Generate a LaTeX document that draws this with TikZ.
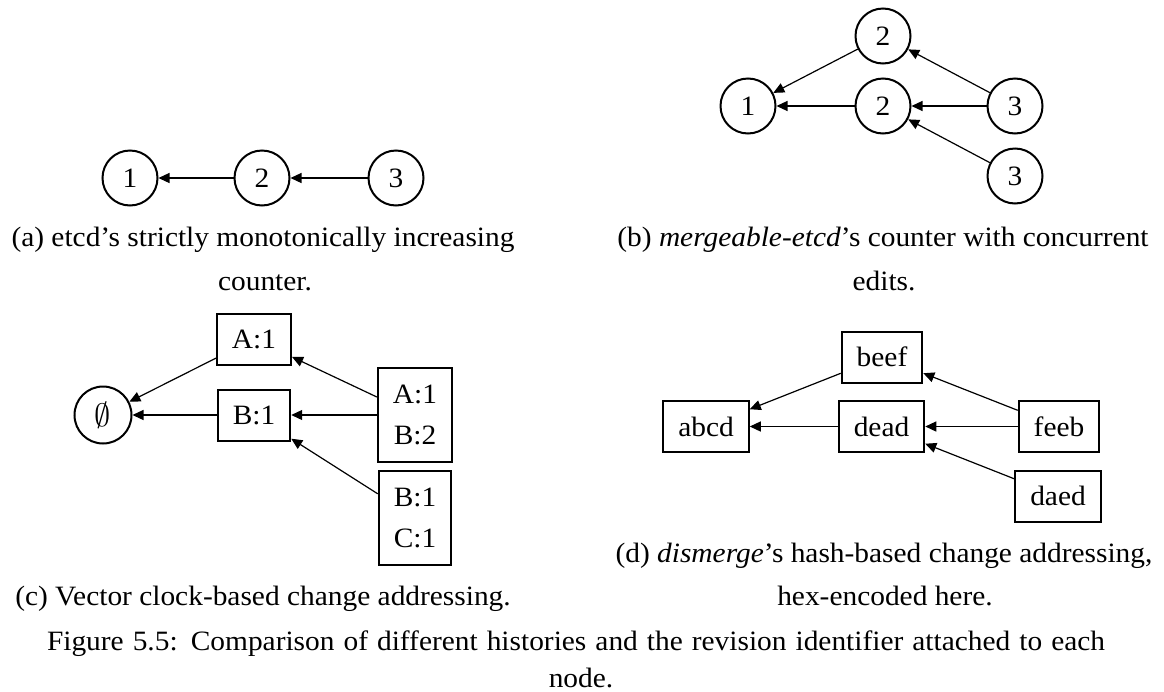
\documentclass[tikz,border=0pt]{standalone}
\usepackage{fontspec}
\usepackage{graphicx}
\setmainfont{Liberation Serif}[FakeStretch=1.05]
\usetikzlibrary{arrows.meta}
\begin{document}
\begin{tikzpicture}[x=1pt,y=-1pt,
  every node/.style={font=\fontsize{28}{33}\selectfont},
  circ/.style={circle,draw,line width=2pt,minimum size=55pt,inner sep=0pt},
  nbox/.style={rectangle,draw,line width=2pt,minimum height=51pt,inner xsep=15pt,inner ysep=0pt},
  tallbox/.style={nbox,align=center,minimum height=94pt,font=\fontsize{28}{41}\selectfont},
  arr/.style={-{Triangle[length=11pt,width=10pt]},line width=1.2pt},
  captext/.style={anchor=base,inner sep=0pt}
]
\useasboundingbox (0,0) rectangle (1164,691);

% (a)
\node[circ] (a1) at (130,178) {1};
\node[circ] (a2) at (262,178) {2};
\node[circ] (a3) at (396,178) {3};
\draw[arr] (a2) -- (a1);
\draw[arr] (a3) -- (a2);

% (b)
\node[circ] (b1)  at (748,106) {1};
\node[circ] (b2t) at (883,36)  {2};
\node[circ] (b2)  at (883,106) {2};
\node[circ] (b3)  at (1015,106) {3};
\node[circ] (b3b) at (1015,176) {3};
\draw[arr] (b2t) -- (b1);
\draw[arr] (b2) -- (b1);
\draw[arr] (b3) -- (b2t);
\draw[arr] (b3) -- (b2);
\draw[arr] (b3b) -- (b2);

% (c)
\node[circ,minimum size=57pt] (c0) at (103,415) {\scalebox{1.3}{$\emptyset$}};
\node[nbox] (cA)  at (254,339) {A:1};
\node[nbox] (cB)  at (254,415) {B:1};
\node[tallbox] (cAB) at (415,415) {A:1\\B:2};
\node[tallbox] (cBC) at (415,517.5) {B:1\\C:1};
\draw[arr] (cA) -- (c0);
\draw[arr] (cB) -- (c0);
\draw[arr] (cAB) -- (cA);
\draw[arr] (cAB) -- (cB);
\draw[arr] (cBC) -- (cB);

% (d)
\node[nbox] (dabcd) at (706,426.5) {abcd};
\node[nbox] (dbeef) at (882,357) {beef};
\node[nbox] (ddead) at (881.5,426.5) {dead};
\node[nbox] (dfeeb) at (1059,426.5) {feeb};
\node[nbox] (ddaed) at (1058,496) {daed};
\draw[arr] (dbeef) -- (dabcd);
\draw[arr] (ddead) -- (dabcd);
\draw[arr] (dfeeb) -- (dbeef);
\draw[arr] (dfeeb) -- (ddead);
\draw[arr] (ddaed) -- (ddead);

% captions
\node[captext] (capa1) at (263,246) {(a) etcd’s strictly monotonically increasing};
\node[captext] (capa2) at (265,290) {counter.};
\node[captext] (capb1) at (883,246) {(b) \textit{mergeable-etcd}’s counter with concurrent};
\node[captext] (capb2) at (884,290) {edits.};
\node[captext] (capc1) at (263,605) {(c) Vector clock-based change addressing.};
\node[captext] (capd1) at (884,562) {(d) \textit{dismerge}’s hash-based change addressing,};
\node[captext] (capd2) at (885,605) {hex-encoded here.};
\node[captext] (fig1) at (576,650) {\makebox[1058pt][s]{Figure 5.5: Comparison of different histories and the revision identifier attached to each}};
\node[captext] (fig2) at (581,687) {node.};
\end{tikzpicture}
\end{document}
